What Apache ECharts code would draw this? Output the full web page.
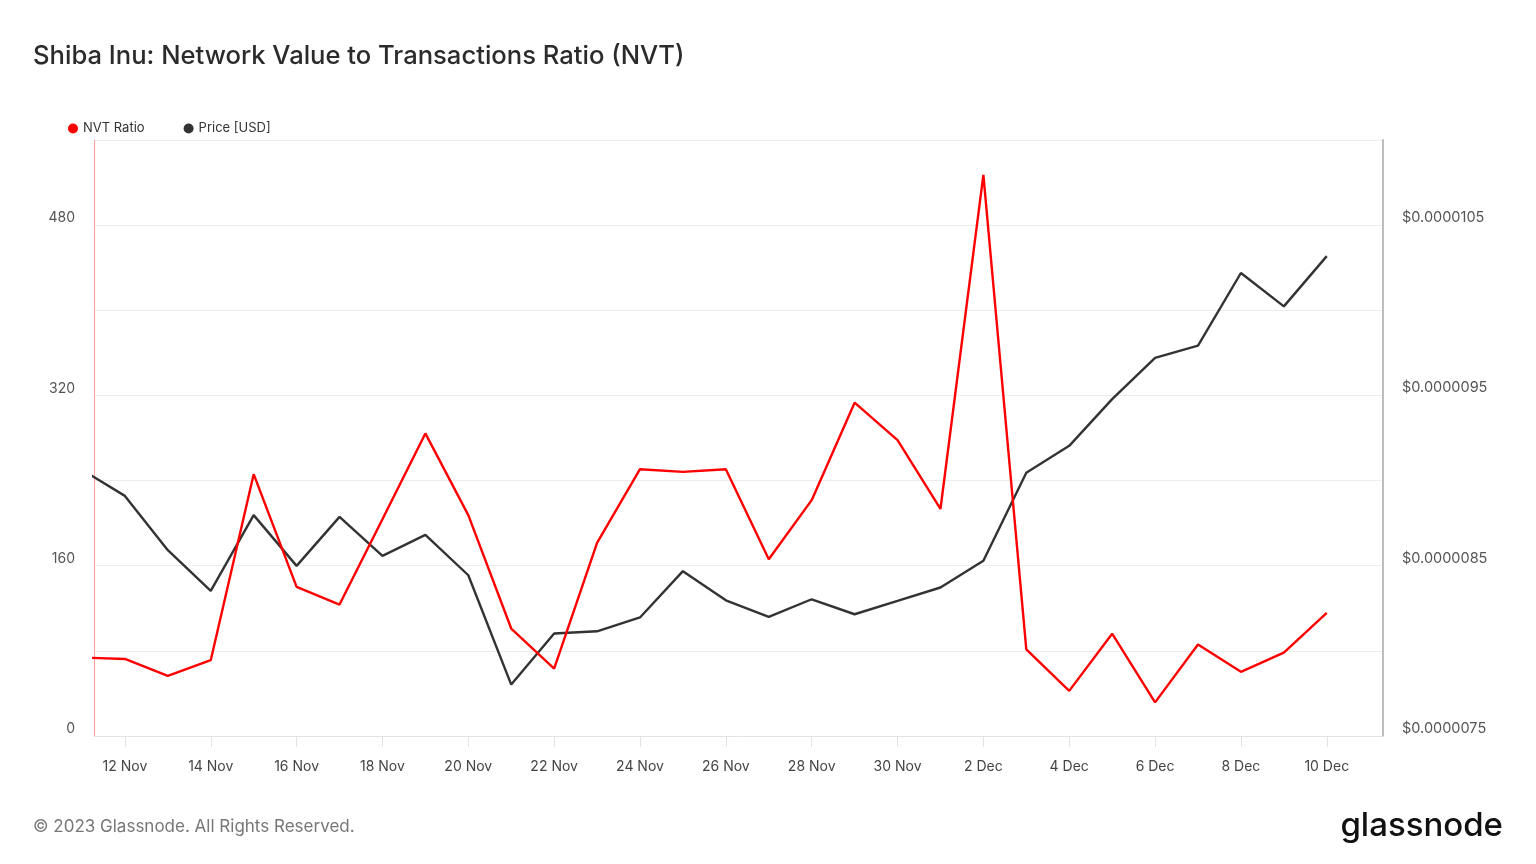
<!DOCTYPE html>
<html>
<head>
<meta charset="utf-8">
<script src="https://cdn.jsdelivr.net/npm/echarts@6/dist/echarts.min.js"></script>
<style>
html,body{margin:0;padding:0;background:#fff;}
#chart{width:1536px;height:864px;}
</style>
</head>
<body>
<div id="chart"></div>
<script>
// ---- Data ----
const dates = [
  '11 Nov','12 Nov','13 Nov','14 Nov','15 Nov','16 Nov',
  '17 Nov','18 Nov','19 Nov','20 Nov','21 Nov','22 Nov',
  '23 Nov','24 Nov','25 Nov','26 Nov','27 Nov','28 Nov',
  '29 Nov','30 Nov','1 Dec','2 Dec','3 Dec','4 Dec',
  '5 Dec','6 Dec','7 Dec','8 Dec','9 Dec','10 Dec'
];
const nvtRatio = [
  73.7, 72.4, 56.4, 71.2, 246.0, 140.1,
  123.5, 203.7, 284.3, 207.5, 101.0, 63.4,
  181.4, 250.7, 248.2, 250.7, 166.1, 221.6,
  313.2, 278.0, 213.3, 527.2, 81.3, 42.4,
  96.1, 31.6, 86.0, 60.3, 78.4, 115.6
];
const priceUsd = [
  0.000009064, 0.000008910, 0.000008591, 0.000008352, 0.000008797, 0.000008499,
  0.000008787, 0.000008558, 0.000008681, 0.000008444, 0.000007802, 0.000008102,
  0.000008115, 0.000008196, 0.000008468, 0.000008297, 0.000008199, 0.000008303,
  0.000008215, 0.000008293, 0.000008372, 0.000008529, 0.000009046, 0.000009204,
  0.000009478, 0.000009720, 0.000009792, 0.000010219, 0.000010023, 0.000010318
];
const xTickLabels = [
  '12 Nov','14 Nov','16 Nov','18 Nov','20 Nov','22 Nov','24 Nov','26 Nov',
  '28 Nov','30 Nov','2 Dec','4 Dec','6 Dec','8 Dec','10 Dec'
];
const leftTickLabels = [0, 160, 320, 480];
const rightTickLabels = [0.0000075, 0.0000085, 0.0000095, 0.0000105];

// ---- helpers: x position = day index (0 = 11 Nov) ----
const nvtData = dates.map((d,i)=>[i, nvtRatio[i]]);
const priceData = dates.map((d,i)=>[i, priceUsd[i]]);
const tickVals = xTickLabels.map(l => dates.indexOf(l));
const FONT = 'Inter, "Noto Sans", sans-serif';

const chart = echarts.init(document.getElementById('chart'), null, {renderer:'canvas'});
chart.setOption({
  animation: false,
  backgroundColor: '#ffffff',
  textStyle: { fontFamily: FONT },
  title: {
    text: 'Shiba Inu: Network Value to Transactions Ratio (NVT)',
    left: 33, top: 43, padding: 0,
    textStyle: { fontFamily: FONT, fontSize: 25.6, fontWeight: 500, color: '#2b2b2b' }
  },
  legend: {
    left: 63, top: 117,
    icon: 'circle', itemWidth: 10, itemHeight: 10, itemGap: 39,
    textStyle: { fontFamily: FONT, fontSize: 13, color: '#333' },
    data: [
      { name: 'NVT Ratio', itemStyle: { color: '#ff0000' } },
      { name: 'Price [USD]', itemStyle: { color: '#333333' } }
    ]
  },
  grid: { left: 94, right: 153, top: 140, bottom: 128, containLabel: false },
  xAxis: {
    type: 'value',
    min: 0.28,
    max: 30.31,
    axisLine: { show: true, lineStyle: { color: '#e3e3e3', width: 1 } },
    axisTick: { show: true, customValues: tickVals, length: 11, lineStyle: { color: '#e3e3e3' } },
    axisLabel: {
      customValues: tickVals,
      margin: 24,
      fontFamily: FONT, fontSize: 14, color: '#444',
      formatter: function(v){ return dates[Math.round(v)] || ''; }
    },
    splitLine: { show: false }
  },
  yAxis: [
    {
      type: 'value', min: 0, max: 560, interval: 80, position: 'left',
      axisLine: { show: true, lineStyle: { color: '#ffa3a3', width: 1.2 } },
      axisTick: { show: false },
      splitLine: { show: true, lineStyle: { color: '#ececec', width: 1 } },
      axisLabel: {
        margin: 19, fontFamily: FONT, fontSize: 14, color: '#555',
        verticalAlign: 'bottom',
        formatter: function(v){ return leftTickLabels.indexOf(v) >= 0 ? String(v) : ''; }
      }
    },
    {
      type: 'value', min: 0.0000075, max: 0.000011, interval: 0.0000005, position: 'right',
      axisLine: { show: true, lineStyle: { color: '#bdbdbd', width: 2 } },
      axisTick: { show: false },
      splitLine: { show: false },
      axisLabel: {
        margin: 19, fontFamily: FONT, fontSize: 14.5, color: '#555',
        verticalAlign: 'bottom',
        formatter: function(v){
          const n = Math.round(v*1e7);
          const ok = rightTickLabels.some(r => Math.round(r*1e7) === n);
          return ok ? '$' + (n/1e7).toFixed(7) : '';
        }
      }
    }
  ],
  series: [
    {
      name: 'NVT Ratio', type: 'line', yAxisIndex: 0, data: nvtData,
      showSymbol: false, symbol: 'none', clip: true,
      lineStyle: { color: '#ff0000', width: 2.4 }, itemStyle: { color: '#ff0000' }, z: 3
    },
    {
      name: 'Price [USD]', type: 'line', yAxisIndex: 1, data: priceData,
      showSymbol: false, symbol: 'none', clip: true,
      lineStyle: { color: '#333333', width: 2.4 }, itemStyle: { color: '#333333' }, z: 2
    }
  ],
  graphic: [
    {
      type: 'text', left: 33, top: 818,
      style: { text: '© 2023 Glassnode. All Rights Reserved.', font: '400 17px Inter, sans-serif', fill: '#777' }
    },
    {
      type: 'text', right: 33, top: 810,
      style: { text: 'glassnode', font: '500 33px Inter, sans-serif', fill: '#111' }
    }
  ]
});
</script>
</body>
</html>
